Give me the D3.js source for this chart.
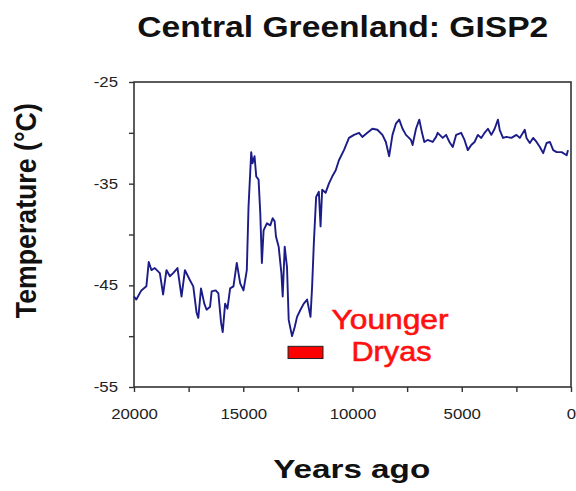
<!DOCTYPE html>
<html>
<head>
<meta charset="utf-8">
<script src="https://cdn.jsdelivr.net/npm/d3@7"></script>
<style>
  html, body { margin: 0; padding: 0; background: #fff; }
  svg { display: block; }
  text { font-family: "Liberation Sans", Arial, Helvetica, sans-serif; }
</style>
</head>
<body>
<svg id="chart" width="576" height="491"></svg>
<script>
// ---- Data ----
const titleText = "Central Greenland: GISP2";
const xLabelText = "Years ago";
const yLabelText = "Temperature (°C)";

const years = [20000,19894,19664,19434,19324,19204,19048,18818,18667,18515,
  18358,18207,18009,17825,17669,17439,17287,17136,17057,16933,
  16782,16676,16519,16446,16262,16138,16014,15940,15830,15724,
  15600,15448,15296,15140,14989,14837,14759,14635,14575,14483,
  14405,14299,14221,14147,14069,13917,13761,13655,13563,13503,
  13379,13255,13195,13103,12998,12920,12768,12644,12538,12382,
  12230,12078,11922,11848,11770,11664,11540,11462,11388,11232,
  11081,10929,10772,10621,10391,10161,9931,9701,9550,9320,
  9090,8860,8630,8474,8322,8170,8014,7862,7710,7554,
  7324,7251,7094,6943,6818,6713,6561,6331,6175,6101,
  5871,5715,5563,5411,5255,5025,4874,4722,4565,4414,
  4262,4106,3954,3802,3646,3494,3343,3264,3113,2956,
  2726,2497,2345,2115,2037,1885,1733,1577,1425,1274,
  1117,966,814,657,428,198,138];

const temps = [-46.1,-46.4,-45.5,-45.1,-42.7,-43.5,-43.3,-43.8,-45.9,-43.5,
  -44.1,-43.8,-43.3,-46.1,-43.5,-44.5,-45.1,-47.7,-48.2,-45.3,
  -46.8,-47.4,-47.1,-45.6,-45.5,-45.8,-48.7,-49.6,-46.8,-47.3,
  -45.3,-45.1,-42.8,-44.8,-45.5,-43.5,-37.3,-31.9,-33.0,-32.3,
  -34.3,-34.6,-37.9,-42.8,-39.6,-38.9,-39.1,-38.4,-38.7,-40.2,
  -41.2,-43.8,-46.1,-41.2,-43.2,-48.4,-50.0,-49.1,-48.1,-47.4,
  -46.8,-46.4,-48.1,-45.1,-40.9,-36.3,-35.8,-39.2,-35.6,-35.9,
  -35.0,-34.3,-33.7,-32.7,-31.7,-30.5,-30.2,-30.0,-30.4,-30.0,
  -29.6,-29.7,-30.2,-30.9,-32.3,-30.2,-29.1,-28.7,-29.6,-30.2,
  -30.7,-31.2,-29.6,-28.7,-30.0,-30.9,-30.7,-30.9,-30.4,-30.0,
  -30.5,-30.2,-30.9,-31.4,-30.2,-30.0,-30.7,-31.7,-31.2,-30.9,
  -30.2,-30.5,-30.0,-29.6,-30.2,-29.6,-28.7,-29.7,-30.5,-30.4,
  -30.5,-30.2,-30.5,-29.7,-30.5,-31.0,-30.5,-30.9,-31.4,-32.0,
  -31.0,-30.9,-31.7,-31.9,-31.9,-32.2,-31.7];

const xTicks = [20000,17500,15000,12500,10000,7500,5000,2500,0];
const xTickLabels = ["20000","","15000","","10000","","5000","","0"];
const yTicks = [-55,-50,-45,-40,-35,-30,-25];
const yTickLabels = ["-55","","-45","","-35","","-25"];

// Younger Dryas annotation
const ydYears = [12950, 11350];
const ydTemps = [-51.0, -52.2];
const ydLabel = ["Younger", "Dryas"];

// ---- Layout ----
const W = 576, H = 491;
const plot = { left: 134, right: 571, top: 82, bottom: 387 };

const svg = d3.select("#chart");
svg.append("rect").attr("width", W).attr("height", H).attr("fill", "#fff");

const x = d3.scaleLinear().domain([20000, 0]).range([plot.left, plot.right]);
const y = d3.scaleLinear().domain([-55, -25]).range([plot.bottom, plot.top]);

// Frame
svg.append("rect")
  .attr("x", plot.left).attr("y", plot.top)
  .attr("width", plot.right - plot.left).attr("height", plot.bottom - plot.top)
  .attr("fill", "none").attr("stroke", "#333").attr("stroke-width", 1.6);

// Bottom axis
const xAxis = d3.axisBottom(x)
  .tickValues(xTicks)
  .tickSize(5)
  .tickFormat((d, i) => xTickLabels[i]);
const gx = svg.append("g").attr("transform", `translate(0,${plot.bottom})`).call(xAxis);
gx.select(".domain").remove();
gx.selectAll(".tick line").attr("stroke", "#333").attr("stroke-width", 1.4);
gx.selectAll(".tick text")
  .attr("y", 22).attr("dy", "0.71em")
  .attr("transform", "scale(1.2,1)")
  .attr("fill", "#222")
  .style("font-size", "14px")
  .style("font-family", '"Liberation Sans", Arial, sans-serif');

// Left axis
const yAxis = d3.axisLeft(y)
  .tickValues(yTicks)
  .tickSize(5)
  .tickFormat((d, i) => yTickLabels[i]);
const gy = svg.append("g").attr("transform", `translate(${plot.left},0)`).call(yAxis);
gy.select(".domain").remove();
gy.selectAll(".tick line").attr("stroke", "#333").attr("stroke-width", 1.4);
gy.selectAll(".tick text")
  .attr("x", -16 / 1.2)
  .attr("transform", "scale(1.2,1)")
  .attr("fill", "#222")
  .style("font-size", "14px")
  .style("font-family", '"Liberation Sans", Arial, sans-serif');

// Data line
const data = years.map((yr, i) => ({ yr, t: temps[i] }));
const line = d3.line().x(d => x(d.yr)).y(d => y(d.t));
svg.append("path")
  .datum(data)
  .attr("d", line)
  .attr("fill", "none")
  .attr("stroke", "#1c1c88")
  .attr("stroke-width", 1.9)
  .attr("stroke-linejoin", "round");

// Younger Dryas bar
svg.append("rect")
  .attr("x", x(ydYears[0]))
  .attr("y", y(ydTemps[0]))
  .attr("width", x(ydYears[1]) - x(ydYears[0]))
  .attr("height", y(ydTemps[1]) - y(ydTemps[0]))
  .attr("fill", "#ff0000")
  .attr("stroke", "#222")
  .attr("stroke-width", 1);

svg.append("text")
  .attr("x", 331.5).attr("y", 328.5)
  .attr("textLength", 117).attr("lengthAdjust", "spacingAndGlyphs")
  .attr("fill", "#ff1010").attr("stroke", "#ff1010").attr("stroke-width", 0.6)
  .style("font-size", "28px")
  .text(ydLabel[0]);
svg.append("text")
  .attr("x", 351.5).attr("y", 361)
  .attr("textLength", 80).attr("lengthAdjust", "spacingAndGlyphs")
  .attr("fill", "#ff1010").attr("stroke", "#ff1010").attr("stroke-width", 0.6)
  .style("font-size", "28px")
  .text(ydLabel[1]);

// Title
svg.append("text")
  .attr("x", 342.8).attr("y", 36.7)
  .attr("text-anchor", "middle")
  .attr("textLength", 411).attr("lengthAdjust", "spacingAndGlyphs")
  .attr("fill", "#111")
  .style("font-size", "29px").style("font-weight", "bold")
  .text(titleText);

// X label
svg.append("text")
  .attr("x", 351.7).attr("y", 478.3)
  .attr("text-anchor", "middle")
  .attr("textLength", 157).attr("lengthAdjust", "spacingAndGlyphs")
  .attr("fill", "#111")
  .style("font-size", "26px").style("font-weight", "bold")
  .text(xLabelText);

// Y label
svg.append("text")
  .attr("transform", "translate(36,210.7) scale(1.15,1) rotate(-90)")
  .attr("text-anchor", "middle")
  .attr("textLength", 215).attr("lengthAdjust", "spacingAndGlyphs")
  .attr("fill", "#111")
  .style("font-size", "25px").style("font-weight", "bold")
  .text(yLabelText);
</script>
</body>
</html>
